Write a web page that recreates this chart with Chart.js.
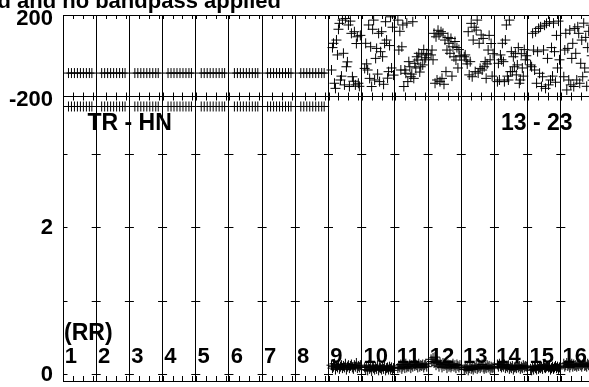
<!DOCTYPE html>
<html><head><meta charset="utf-8">
<script src="https://cdn.jsdelivr.net/npm/chart.js@4.4.1/dist/chart.umd.min.js"></script>
<style>
html,body{margin:0;padding:0;overflow:hidden;background:#fff;width:589px;height:387px}
canvas{display:block}
</style></head>
<body><canvas id="c" width="600" height="387"></canvas>
<script>
// ---------------- DATA ----------------
const titleText = 'd and no bandpass applied';
const baselineLabel = 'TR - HN';
const timeRangeLabel = '13 - 23';
const stokesLabel = '(RR)';
const channels = ['1','2','3','4','5','6','7','8','9','10','11','12','13','14','15','16'];
const phaseTickValues = [-200, 0, 200];
const phaseTickLabels = ['-200', '', '200'];
const ampTickValues = [0, 2];
const ampMinorTicks = [0, 1, 2, 3];
const timeTicks = [0, 1, 2, 3];

// channels 1-8 (flat rows)
const flatTimes = [0.55, 0.85, 1.15, 1.45, 1.75, 2.05, 2.35, 2.65, 2.9];
const flatPhase = [-85, -85, -85, -85, -85, -85, -85, -85, -85];
const flatAmp = [3.64, 3.64, 3.64, 3.64, 3.64, 3.64, 3.64, 3.64, 3.64];

// channels 9-16 (scattered)
const noisyTimes = [0.3,0.4,0.5,0.6,0.7,0.8,0.9,1.0,1.1,1.2,1.3,1.4,1.5,1.6,1.7,1.8,1.9,2.0,2.1,2.2,2.3,2.4,2.5,2.6,2.7,2.8,2.9,3.0,3.1,3.2];
const phase9  = [-70,40,61,-135,-160,77,4,130,159,-119,-100,175,12,-143,183,-54,-30,151,-151,170,110,-103,-125,118,-143,60,93,-135,-150,100];
const phase10 = [-62,61,-40,-70,151,-111,44,-151,130,175,-119,-13,36,-90,110,-127,20,118,-5,-140,61,167,77,-110,-78,50,191,-60,140,-95];
const phase11 = [175,28,120,-70,44,151,-151,-70,-86,160,-127,-29,-54,-103,-90,167,-111,-37,-60,-5,-21,12,-80,-54,4,-45,30,-20,-10,10];
const phase12 = [4,28,-20,110,-135,93,-119,125,102,-127,118,-111,110,-140,77,-78,28,90,61,12,85,-100,44,-5,70,-21,40,-60,30,0];
const phase13 = [-5,4,-21,-40,118,-94,-29,159,-103,77,140,-78,126,175,-85,61,-62,102,-70,85,-54,-29,-111,-40,28,100,-20,60,-100,10];
const phase14 = [-127,-37,-119,4,-20,61,-29,-127,77,151,-100,-119,175,-78,20,-78,-5,-54,12,-94,-45,40,-135,-119,10,-60,-100,30,-20,0];
const phase15 = [-45,-54,110,28,-70,118,-135,20,134,-86,142,-151,-103,28,150,-160,159,-13,-143,167,-119,40,-100,160,20,-130,100,-60,170,-20];
const phase16 = [-103,28,110,-168,36,-119,126,-143,-13,61,-151,134,12,-119,142,110,-135,-37,77,-103,160,-60,90,-150,40,120,-80,150,0,-120];

const amp9  = [0.12,0.08,0.10,0.14,0.06,0.11,0.09,0.13,0.07,0.10,0.12,0.08,0.11,0.09,0.14,0.06,0.10,0.12,0.08,0.11,0.13,0.09,0.07,0.12,0.10,0.15,0.08,0.11,0.09,0.12];
const amp10 = [0.09,0.06,0.10,0.05,0.12,0.07,0.09,0.04,0.11,0.08,0.06,0.10,0.07,0.12,0.05,0.09,0.08,0.06,0.10,0.07,0.11,0.05,0.08,0.09,0.06,0.10,0.07,0.09,0.05,0.08];
const amp11 = [0.08,0.11,0.09,0.13,0.07,0.10,0.12,0.08,0.14,0.09,0.11,0.10,0.13,0.08,0.12,0.10,0.15,0.11,0.13,0.12,0.09,0.14,0.10,0.12,0.11,0.13,0.09,0.12,0.14,0.10];
const amp12 = [0.20,0.17,0.22,0.15,0.23,0.12,0.18,0.14,0.10,0.16,0.13,0.09,0.15,0.11,0.14,0.12,0.08,0.13,0.10,0.12,0.09,0.11,0.14,0.10,0.12,0.08,0.13,0.11,0.09,0.12];
const amp13 = [0.06,0.09,0.07,0.10,0.05,0.08,0.11,0.07,0.09,0.06,0.10,0.08,0.12,0.07,0.09,0.11,0.08,0.10,0.13,0.09,0.07,0.10,0.08,0.12,0.09,0.11,0.07,0.10,0.08,0.09];
const amp14 = [0.13,0.10,0.14,0.11,0.09,0.12,0.10,0.13,0.08,0.11,0.09,0.12,0.07,0.10,0.08,0.11,0.06,0.09,0.10,0.08,0.12,0.09,0.11,0.07,0.10,0.08,0.12,0.09,0.11,0.10];
const amp15 = [0.07,0.05,0.09,0.06,0.10,0.08,0.06,0.11,0.07,0.09,0.08,0.10,0.07,0.12,0.09,0.08,0.10,0.11,0.09,0.10,0.06,0.08,0.10,0.07,0.09,0.11,0.08,0.10,0.07,0.09];
const amp16 = [0.14,0.10,0.12,0.15,0.11,0.13,0.09,0.12,0.14,0.10,0.13,0.11,0.12,0.10,0.13,0.11,0.14,0.12,0.10,0.13,0.15,0.11,0.12,0.10,0.14,0.12,0.11,0.13,0.10,0.12];

const noisyPhase = [phase9, phase10, phase11, phase12, phase13, phase14, phase15, phase16];
const noisyAmp = [amp9, amp10, amp11, amp12, amp13, amp14, amp15, amp16];

// ---------------- BUILD ----------------
const PANEL = 10 / 3; // time span of one channel panel
const phasePts = [], ampPts = [];
for (let c = 0; c < 8; c++) {
  flatTimes.forEach((t, j) => {
    phasePts.push({x: c * PANEL + t, y: flatPhase[j]});
    ampPts.push({x: c * PANEL + t, y: flatAmp[j]});
  });
}
for (let c = 0; c < 8; c++) {
  noisyTimes.forEach((t, j) => {
    phasePts.push({x: (c + 8) * PANEL + t, y: noisyPhase[c][j]});
    ampPts.push({x: (c + 8) * PANEL + t, y: noisyAmp[c][j]});
  });
}

const FONT = '"Liberation Sans", Arial, Helvetica, sans-serif';

function noPad(s) {
  s.paddingTop = 0; s.paddingBottom = 0; s.paddingLeft = 0; s.paddingRight = 0;
}

const decor = {
  id: 'decor',
  afterDatasetsDraw(chart) {
    const {ctx, scales: {x, yp, ya}} = chart;
    ctx.save();
    ctx.strokeStyle = '#000';
    ctx.lineWidth = 1;
    ctx.beginPath();
    for (let i = 0; i < channels.length; i++) {
      for (const k of timeTicks) {
        const px = Math.round(x.getPixelForValue(i * PANEL + k)) + 0.5;
        ctx.moveTo(px, yp.top); ctx.lineTo(px, yp.top + 4);
        ctx.moveTo(px, yp.bottom); ctx.lineTo(px, yp.bottom - 4);
        ctx.moveTo(px, ya.top); ctx.lineTo(px, ya.top + 4);
        ctx.moveTo(px, ya.bottom); ctx.lineTo(px, ya.bottom - 5);
      }
    }
    for (let i = 0; i <= channels.length; i++) {
      const px = x.getPixelForValue(i * PANEL);
      for (const v of ampMinorTicks) {
        const py = Math.round(ya.getPixelForValue(v)) + 0.5;
        ctx.moveTo(i === 0 ? px : px - 4.5, py);
        ctx.lineTo(px + 4.5, py);
      }
    }
    ctx.stroke();

    ctx.fillStyle = '#000';
    ctx.textBaseline = 'alphabetic';
    ctx.font = 'bold 22px ' + FONT;
    ctx.textAlign = 'right';
    ctx.fillText(titleText, 281, 8);
    ctx.textAlign = 'left';
    ctx.font = 'bold 23px ' + FONT;
    ctx.fillText(baselineLabel, 87.5, 130);
    ctx.fillText(timeRangeLabel, 501, 130);
    ctx.fillText(stokesLabel, 64, 340);
    ctx.font = 'bold 22px ' + FONT;
    const yBase = ya.getPixelForValue(0) - 11;
    channels.forEach((ch, i) => {
      ctx.fillText(ch, x.getPixelForValue(i * PANEL) + 1.8, yBase);
    });
    ctx.restore();
  }
};

const crossStyle = {
  showLine: false,
  pointStyle: 'cross',
  pointRadius: 5,
  pointBorderWidth: 1,
  pointBorderColor: '#000',
  pointBackgroundColor: '#000'
};

new Chart(document.getElementById('c'), {
  type: 'scatter',
  data: {
    datasets: [
      Object.assign({label: 'phase', data: phasePts, yAxisID: 'yp'}, crossStyle),
      Object.assign({label: 'amplitude', data: ampPts, yAxisID: 'ya'}, crossStyle)
    ]
  },
  options: {
    responsive: false,
    animation: false,
    devicePixelRatio: 1,
    events: [],
    layout: {padding: {left: 0, top: 15, right: 600 - 63 - 16 * 100 / 3, bottom: 6}},
    plugins: {legend: {display: false}, tooltip: {enabled: false}, title: {display: false}},
    scales: {
      x: {
        type: 'linear',
        position: 'bottom',
        min: 0,
        max: channels.length * PANEL,
        afterBuildTicks: a => { a.ticks = channels.map((c, i) => ({value: i * PANEL})).concat([{value: channels.length * PANEL}]); },
        afterFit: s => { s.height = 0; noPad(s); },
        ticks: {display: false},
        grid: {display: true, color: '#000', lineWidth: 1, drawTicks: false},
        border: {display: true, color: '#000', width: 1}
      },
      ya: {
        type: 'linear',
        position: 'left',
        stack: 'v',
        stackWeight: 284.5,
        min: -0.095,
        max: 3.776,
        afterBuildTicks: a => { a.ticks = ampTickValues.map(v => ({value: v})); },
        afterFit: s => { s.width = 63; noPad(s); },
        ticks: {
          padding: 10, labelOffset: 1, color: '#000',
          font: {family: FONT, size: 22, weight: 'bold'},
          callback: v => String(v)
        },
        grid: {display: false, drawTicks: false},
        border: {display: true, color: '#000', width: 1}
      },
      yp: {
        type: 'linear',
        position: 'left',
        stack: 'v',
        stackWeight: 81.5,
        min: -200,
        max: 200,
        afterBuildTicks: a => { a.ticks = phaseTickValues.map(v => ({value: v})); },
        afterFit: s => { s.width = 63; noPad(s); },
        ticks: {
          padding: 10, labelOffset: 3.5, color: '#000',
          font: {family: FONT, size: 22, weight: 'bold'},
          callback: v => phaseTickLabels[phaseTickValues.indexOf(v)]
        },
        grid: {display: true, color: '#000', lineWidth: 1, drawTicks: false},
        border: {display: true, color: '#000', width: 1}
      }
    }
  },
  plugins: [decor]
});
</script></body></html>
